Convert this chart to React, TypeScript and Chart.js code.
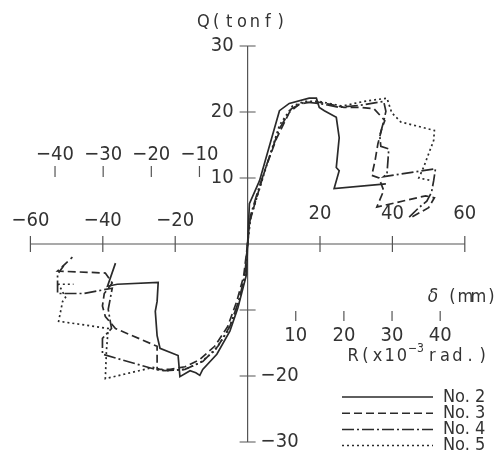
import React, { useEffect, useRef } from "react";
import { Chart, registerables } from "chart.js";

Chart.register(...registerables);

// ---------- data (δ in mm, Q in tonf) ----------
const no2PosDisp = [0, 0.5, 3.3, 8.8, 11.5, 17.0, 19.0, 19.8, 21.2, 24.5, 25.3, 24.5, 25.3, 23.9, 38.2];
const no2PosLoad = [0, 6.1, 9.6, 20.2, 21.3, 22.1, 22.1, 20.7, 20.2, 19.2, 16.1, 11.6, 11.1, 8.4, 9.1];
const no2NegDisp = [0, -0.3, -2.7, -4.9, -8.5, -12.4, -13.2, -14.3, -15.9, -18.7, -19.2, -24.2, -25.0, -25.5, -25.0, -24.7, -36.0, -38.7, -36.5];
const no2NegLoad = [0, -4.6, -9.7, -13.2, -16.7, -19.0, -19.9, -19.5, -19.2, -20.1, -16.9, -15.8, -13.9, -10.2, -8.7, -5.8, -6.1, -6.4, -2.9];

const no3PosDisp = [0, 0.5, 2.2, 4.9, 8.0, 11.5, 14.3, 18.4, 22.5, 26.6, 30.8, 34.9, 37.9, 37.1, 36.0, 35.2, 34.3, 36.3, 37.6, 35.7, 49.2, 51.6, 50.0, 45.1];
const no3PosLoad = [0, 3.2, 6.5, 11.4, 16.0, 19.9, 21.2, 21.6, 21.2, 20.7, 20.7, 20.5, 18.7, 17.5, 15.2, 12.6, 10.4, 10.0, 8.1, 5.6, 7.3, 7.0, 5.5, 4.0];
const no3NegDisp = [0, -1.1, -3.0, -5.5, -9.1, -13.2, -17.3, -21.4, -25.0, -25.0, -36.5, -39.3, -40.1, -39.6, -37.4, -39.3, -52.5, -48.4];
const no3NegLoad = [0, -4.9, -8.7, -12.5, -15.5, -17.5, -18.6, -19.0, -19.0, -15.5, -12.8, -11.0, -9.4, -7.5, -5.9, -4.4, -4.1, -2.0];

const no4PosDisp = [0, 0.8, 2.7, 5.5, 8.8, 12.1, 15.7, 19.8, 25.3, 30.8, 37.6, 38.2, 37.6, 36.5, 36.8, 39.0, 38.5, 37.6, 51.9, 51.4, 50.8, 49.5, 47.3, 44.5];
const no4PosLoad = [0, 4.3, 7.8, 12.4, 17.5, 20.5, 21.5, 21.3, 20.7, 21.0, 21.6, 20.1, 18.6, 16.4, 14.8, 14.4, 10.6, 10.2, 11.4, 9.6, 7.8, 6.5, 5.5, 4.0];
const no4NegDisp = [0, -0.8, -2.5, -4.9, -8.2, -12.4, -17.3, -22.8, -25.5, -40.1, -40.1, -37.6, -38.5, -37.4, -45.3, -52.5, -52.5, -50.8];
const no4NegLoad = [0, -4.9, -8.7, -12.5, -15.5, -17.8, -19.0, -19.2, -19.0, -16.7, -14.3, -12.8, -9.9, -6.7, -7.5, -7.5, -4.6, -3.3];

const no5PosDisp = [0, 0.8, 2.7, 5.5, 8.8, 12.4, 15.7, 19.8, 26.1, 32.1, 38.5, 39.8, 42.3, 51.6, 51.4, 48.6, 47.3, 50.8];
const no5PosLoad = [0, 3.8, 7.3, 12.3, 18.0, 20.9, 21.6, 21.6, 20.9, 21.6, 22.1, 19.9, 18.5, 17.2, 15.7, 11.6, 10.0, 9.6];
const no5NegDisp = [0, -0.8, -2.7, -5.5, -9.1, -13.2, -17.3, -22.8, -26.1, -39.3, -39.0, -38.5, -52.2, -51.1, -50.3, -52.2, -48.1];
const no5NegLoad = [0, -5.3, -9.4, -13.2, -16.2, -18.0, -19.0, -19.2, -18.7, -20.4, -16.2, -12.8, -11.7, -8.7, -8.1, -6.1, -6.1];

// ---------- axes / ticks ----------
const xTicks = [-60, -40, -20, 20, 40, 60];
const xTickLabels = ["\u221260", "\u221240", "\u221220", "20", "40", "60"];
const yTicks = [30, 20, 10, -10, -20, -30];
const yTickLabels = ["30", "20", "10", "", "\u221220", "\u221230"];
const rTopTicks = [-40, -30, -20, -10];
const rTopLabels = ["\u221240", "\u221230", "\u221220", "\u221210"];
const rBottomTicks = [10, 20, 30, 40];
const rBottomLabels = ["10", "20", "30", "40"];
const mmPerR = 1.33; // δ (mm) per 1×10⁻³ rad (specimen height)

const seriesNames = ["No. 2", "No. 3", "No. 4", "No. 5"];
const seriesDash: number[][] = [[], [8, 4], [12, 3, 2, 3], [2, 3]];

const INK = "#2a2a2a";
const TEXT = "#333";
const FONT = '"Liberation Sans Narrow", "DejaVu Sans Condensed", "Liberation Sans", sans-serif';

const toPts = (d: number[], q: number[]) => d.map((v, i) => ({ x: v, y: q[i] }));

function pitched(ctx: CanvasRenderingContext2D, text: string, x: number, y: number, pitch: number, align: "left" | "center" | "right") {
  const w = pitch * text.length;
  const start = align === "center" ? x - w / 2 : align === "right" ? x - w : x;
  ctx.textAlign = "center";
  for (let i = 0; i < text.length; i++) ctx.fillText(text[i], start + pitch * (i + 0.5), y);
}

const crossAxes = {
  id: "crossAxes",
  beforeDatasetsDraw(chart: any) {
    const ctx: CanvasRenderingContext2D = chart.ctx;
    const xs = chart.scales.x;
    const ys = chart.scales.y;
    const x0 = xs.getPixelForValue(0);
    const y0 = ys.getPixelForValue(0);
    ctx.save();
    ctx.strokeStyle = "#555";
    ctx.lineWidth = 1.2;
    ctx.setLineDash([]);
    ctx.beginPath();
    ctx.moveTo(xs.getPixelForValue(xTicks[0]), y0);
    ctx.lineTo(xs.getPixelForValue(xTicks[xTicks.length - 1]), y0);
    ctx.moveTo(x0, ys.getPixelForValue(yTicks[0]));
    ctx.lineTo(x0, ys.getPixelForValue(yTicks[yTicks.length - 1]));
    for (const t of xTicks) {
      const px = xs.getPixelForValue(t);
      ctx.moveTo(px, y0 - 8);
      ctx.lineTo(px, y0 + 8);
    }
    for (const t of yTicks) {
      const py = ys.getPixelForValue(t);
      ctx.moveTo(x0 - 8, py);
      ctx.lineTo(x0 + 8, py);
    }
    for (const r of rTopTicks) {
      const px = xs.getPixelForValue(r * mmPerR);
      ctx.moveTo(px, 166);
      ctx.lineTo(px, 177);
    }
    for (const r of rBottomTicks) {
      const px = xs.getPixelForValue(r * mmPerR);
      ctx.moveTo(px, 311);
      ctx.lineTo(px, 321);
    }
    ctx.stroke();

    ctx.fillStyle = TEXT;
    ctx.textBaseline = "middle";
    ctx.font = `20px ${FONT}`;
    xTicks.forEach((t, i) => {
      ctx.textAlign = "center";
      ctx.fillText(xTickLabels[i], xs.getPixelForValue(t), t < 0 ? 221 : 214);
    });
    yTicks.forEach((t, i) => {
      const py = ys.getPixelForValue(t);
      if (!yTickLabels[i]) return;
      if (t > 0) {
        ctx.textAlign = "right";
        ctx.fillText(yTickLabels[i], x0 - 14, py);
      } else {
        ctx.textAlign = "left";
        ctx.fillText(yTickLabels[i], x0 + 13, py);
      }
    });
    ctx.textAlign = "center";
    rTopTicks.forEach((r, i) => ctx.fillText(rTopLabels[i], xs.getPixelForValue(r * mmPerR), 155));
    rBottomTicks.forEach((r, i) => ctx.fillText(rBottomLabels[i], xs.getPixelForValue(r * mmPerR), 336));

    // axis titles
    ctx.font = `18px ${FONT}`;
    pitched(ctx, "Q(tonf)", 242, 22, 12.9, "center");
    ctx.font = `italic 19px ${FONT}`;
    ctx.textAlign = "center";
    ctx.fillText("\u03b4", 433, 297);
    ctx.font = `18px ${FONT}`;
    pitched(ctx, "(mm)", 446, 297, 13, "left");
    // R(x10^-3 rad.)
    pitched(ctx, "R(x10", 347, 356, 12.2, "left");
    ctx.font = `12px ${FONT}`;
    ctx.textAlign = "center";
    ctx.fillText("\u22123", 416, 349);
    ctx.font = `18px ${FONT}`;
    pitched(ctx, "rad.)", 426, 356, 12.6, "left");

    // legend
    ctx.lineWidth = 1.5;
    ctx.strokeStyle = INK;
    seriesNames.forEach((name, i) => {
      const ly = 397 + i * 16.2;
      ctx.setLineDash(seriesDash[i]);
      ctx.beginPath();
      ctx.moveTo(342, ly);
      ctx.lineTo(433, ly);
      ctx.stroke();
      ctx.font = `18px ${FONT}`;
      ctx.textAlign = "left";
      ctx.fillText(name, 443, ly);
    });
    ctx.restore();
  },
};

function ds(label: string, d: number[], q: number[], dash: number[]) {
  return {
    label,
    data: toPts(d, q),
    showLine: true,
    borderColor: INK,
    backgroundColor: INK,
    borderWidth: 1.7,
    borderDash: dash,
    pointRadius: 0,
    tension: 0,
    fill: false,
  };
}

export default function App() {
  const ref = useRef<HTMLCanvasElement | null>(null);
  useEffect(() => {
    if (!ref.current) return;
    const chart = new Chart(ref.current, {
      type: "scatter",
      data: {
        datasets: [
          ds("No. 5 +", no5PosDisp, no5PosLoad, seriesDash[3]),
          ds("No. 5 -", no5NegDisp, no5NegLoad, seriesDash[3]),
          ds("No. 4 +", no4PosDisp, no4PosLoad, seriesDash[2]),
          ds("No. 4 -", no4NegDisp, no4NegLoad, seriesDash[2]),
          ds("No. 3 +", no3PosDisp, no3PosLoad, seriesDash[1]),
          ds("No. 3 -", no3NegDisp, no3NegLoad, seriesDash[1]),
          ds("No. 2 +", no2PosDisp, no2PosLoad, seriesDash[0]),
          ds("No. 2 -", no2NegDisp, no2NegLoad, seriesDash[0]),
        ],
      },
      options: {
        animation: false,
        responsive: false,
        maintainAspectRatio: false,
        layout: { padding: 0 },
        plugins: { legend: { display: false }, tooltip: { enabled: false } },
        scales: {
          x: { type: "linear", min: -68.4, max: 70.0, display: false },
          y: { type: "linear", min: -33.94, max: 36.97, display: false },
        },
      },
      plugins: [crossAxes],
    } as any);
    return () => chart.destroy();
  }, []);
  return (
    <div style={{ position: "fixed", left: 0, top: 0, width: 501, height: 468, background: "#fff" }}>
      <canvas ref={ref} width={501} height={468} style={{ display: "block" }} />
    </div>
  );
}
